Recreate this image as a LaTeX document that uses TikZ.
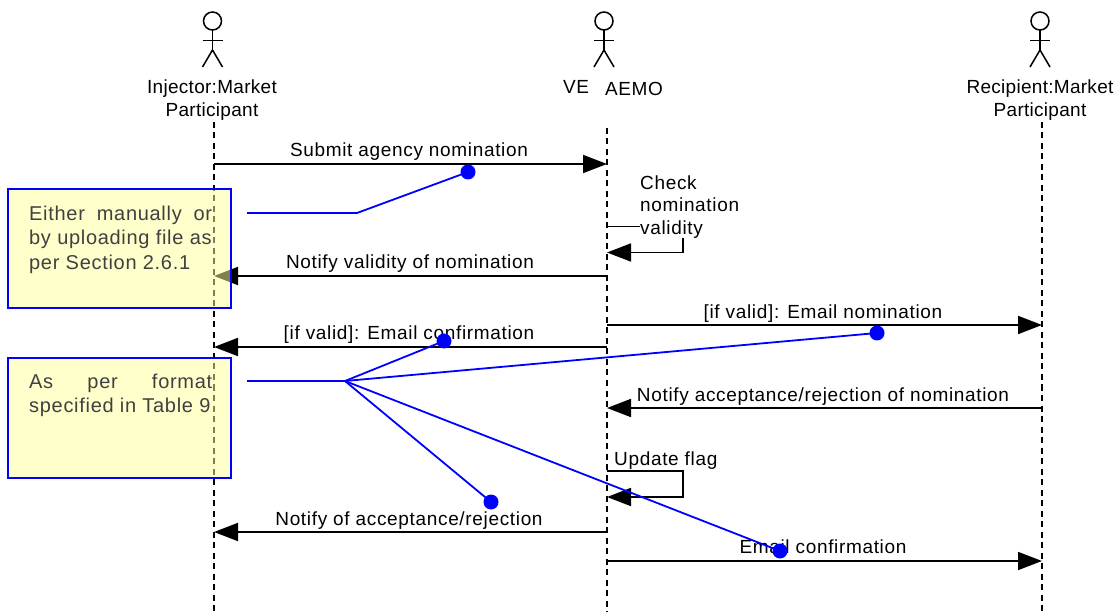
\documentclass[tikz,border=0pt]{standalone}
\usepackage{fontspec}
\setmainfont{Liberation Sans}
\newfontfamily\lblfont[LetterSpace=3.5]{Liberation Sans}
\newfontfamily\actfont[LetterSpace=1.5]{Liberation Sans}
\newfontfamily\notefont[LetterSpace=3.5]{Liberation Sans}
\usetikzlibrary{arrows.meta,calc}
\definecolor{notefill}{HTML}{FFFF99}
\definecolor{notetext}{HTML}{404040}
\definecolor{noteblue}{HTML}{0000FF}
\tikzset{
  lifeline/.style={black,line width=1.5pt,dash pattern=on 6pt off 4.5pt},
  msg/.style={black,line width=1.8pt,-{Triangle[length=24pt,width=18pt]}},
  msglabel/.style={font=\lblfont\fontsize{19}{19}\selectfont,anchor=base,inner sep=0pt,text=black},
  actorlabel/.style={font=\actfont\fontsize{19}{23}\selectfont,align=center,inner sep=0pt,text=black},
  actorpart/.style={black,line width=1.5pt},
  note/.style={draw=noteblue,line width=2pt,fill=notefill,fill opacity=0.5,draw opacity=1,minimum width=223pt,minimum height=119pt,inner sep=0pt},
  notelabel/.style={font=\notefont\fontsize{20}{24.5}\selectfont,text=notetext,align=left,anchor=north west,inner sep=0pt},
  link/.style={noteblue,line width=1.8pt},
  dot/.style={circle,fill=noteblue,draw=none,minimum size=15pt,inner sep=0pt}
}
\newcommand{\stickman}[1]{%
  \draw[actorpart] (#1,21) circle (9);
  \draw[actorpart] (#1,30) -- (#1,50);
  \draw[actorpart] (#1-10,40.5) -- (#1+10,40.5);
  \draw[actorpart] (#1-10,67) -- (#1,50) -- (#1+10,67);
}
\begin{document}
\begin{tikzpicture}[x=1pt,y=-1pt]
\useasboundingbox (0,0) rectangle (1117,612);
% actors
\stickman{212.5}
\stickman{604}
\stickman{1040}
\node[actorlabel] (inj) at (212,100.5) {Injector:Market\\Participant};
\node[msglabel] (ve) at (576,94) {VE};
\node[msglabel] (aemo) at (634,96) {AEMO};
\node[actorlabel] (rec) at (1040,100.5) {Recipient:Market\\Participant};
% lifeline ends
\coordinate (Lt) at (214,122); \coordinate (Lb) at (214,612);
\coordinate (Mt) at (607,128); \coordinate (Mb) at (607,612);
\coordinate (Rt) at (1042,122); \coordinate (Rb) at (1042,612);
\draw[lifeline] (Lt) -- (Lb);
\draw[lifeline] (Mt) -- (Mb);
\draw[lifeline] (Rt) -- (Rb);
% messages
\coordinate (m1a) at (214,164); \coordinate (m1b) at (607,164);
\draw[msg] (m1a) -- (m1b);
\node[msglabel] (t1) at (409,157) {Submit agency nomination};
\coordinate (c1) at (607,226.5); \coordinate (c2) at (683,226.5); \coordinate (c3) at (683,252.5); \coordinate (c4) at (607,252.5);
\draw[msg] (c1) -- (c2) -- (c3) -- (c4);
\node[msglabel,anchor=north west,align=left,fill=white,font=\lblfont\fontsize{19}{22.5}\selectfont] (t2) at (640,175.5) {Check\\nomination\\validity};
\coordinate (m3a) at (607,276); \coordinate (m3b) at (214,276);
\draw[msg] (m3a) -- (m3b);
\node[msglabel] (t3) at (410,269) {Notify validity of nomination};
\coordinate (m4a) at (607,325); \coordinate (m4b) at (1042,325);
\draw[msg] (m4a) -- (m4b);
\node[msglabel] (t4) at (823,319) {[if valid]: Email nomination};
\coordinate (m5a) at (607,347); \coordinate (m5b) at (214,347);
\draw[msg] (m5a) -- (m5b);
\node[msglabel] (t5) at (409,340) {[if valid]: Email confirmation};
\coordinate (m6a) at (1042,408); \coordinate (m6b) at (607,408);
\draw[msg] (m6a) -- (m6b);
\node[msglabel] (t6) at (823,402) {Notify acceptance/rejection of nomination};
\coordinate (u1) at (607,471); \coordinate (u2) at (683,471); \coordinate (u3) at (683,497); \coordinate (u4) at (607,497);
\draw[msg] (u1) -- (u2) -- (u3) -- (u4);
\node[msglabel,anchor=base west] (t7) at (614,465.5) {Update flag};
\coordinate (m8a) at (607,532); \coordinate (m8b) at (214,532);
\draw[msg] (m8a) -- (m8b);
\node[msglabel] (t8) at (409,525.5) {Notify of acceptance/rejection};
\coordinate (m9a) at (607,561); \coordinate (m9b) at (1042,561);
\draw[msg] (m9a) -- (m9b);
\node[msglabel] (t9) at (823,553.5) {Email confirmation};
% notes
\node[note] (n1) at (119.5,248.5) {};
\node[note] (n2) at (119.5,418) {};
\node[notelabel] (nt1) at (29,205.5) {\hbox to 183pt{Either\hfill manually\hfill or}\\by uploading file as\\per Section 2.6.1};
\node[notelabel] (nt2) at (29,373.5) {\hbox to 183pt{As\hfill per\hfill format}\\specified in Table 9};
% links
\coordinate (n1o) at (247,213); \coordinate (n1k) at (357,213);
\coordinate (n2o) at (247,381); \coordinate (n2k) at (345,381);
\node[dot] (d1) at (468,172) {};
\node[dot] (d2) at (444,341) {};
\node[dot] (d3) at (877,333) {};
\node[dot] (d4) at (491,502) {};
\node[dot] (d5) at (780,551) {};
\draw[link] (n1o) -- (n1k) -- (d1.center);
\draw[link] (n2o) -- (n2k);
\draw[link] (n2k) -- (d2.center);
\draw[link] (n2k) -- (d3.center);
\draw[link] (n2k) -- (d4.center);
\draw[link] (n2k) -- (d5.center);
\end{tikzpicture}
\end{document}
